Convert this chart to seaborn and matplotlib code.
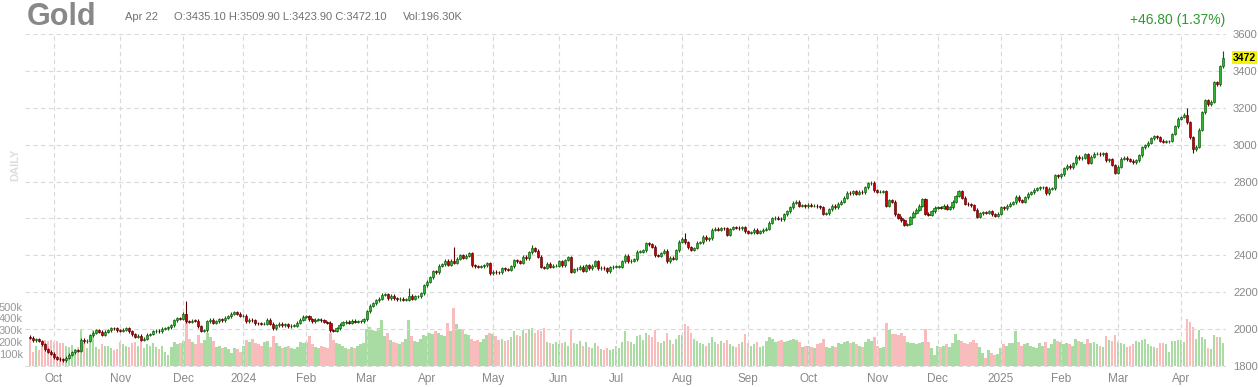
import numpy as np
import pandas as pd
import matplotlib
matplotlib.use("Agg")
import matplotlib.pyplot as plt
import matplotlib.transforms as mtransforms
import seaborn as sns

sns.set_theme(style="white")
plt.rcParams['font.family'] = ['Liberation Sans', 'DejaVu Sans']

# trading days shown (weekdays minus exchange holidays)
start_day, end_day = "2023-09-20", "2025-04-22"
holidays = ["2023-11-23", "2023-12-25", "2024-01-01", "2024-01-15", "2024-02-19",
            "2024-03-29", "2024-05-27", "2024-06-19", "2024-07-04", "2024-09-02",
            "2024-11-28", "2024-12-25", "2025-01-01", "2025-01-09", "2025-01-20",
            "2025-02-17", "2025-04-18"]

# daily closes, one line per month
closes = [
    1953, 1940, 1945, 1936, 1919, 1891, 1878, 1866,  # Sep 23
    1847, 1841, 1836, 1832, 1845, 1862, 1874, 1887, 1883, 1942, 1934, 1937, 1968, 1981, 1994, 1985, 1971, 1985, 1995, 2006, 2005, 1995,  # Oct
    1992, 1998, 2006, 1990, 1973, 1960, 1965, 1943, 1948, 1970, 1974, 1988, 1992, 1989, 2003, 2005, 2010, 2021, 2048, 2060, 2057,  # Nov
    2083, 2042, 2040, 2047, 2046, 2016, 1992, 1995, 2044, 2051, 2036, 2042, 2053, 2048, 2062, 2069, 2083, 2093, 2083, 2072,  # Dec
    2073, 2043, 2050, 2049, 2033, 2031, 2028, 2029, 2051, 2030, 2006, 2022, 2029, 2022, 2027, 2017, 2018, 2018, 2035, 2050, 2067,  # Jan 24
    2071, 2054, 2043, 2051, 2051, 2048, 2039, 2034, 1993, 1992, 2005, 2024, 2038, 2040, 2035, 2046, 2040, 2042, 2043, 2054,  # Feb
    2096, 2126, 2141, 2158, 2166, 2186, 2189, 2167, 2180, 2167, 2161, 2164, 2160, 2160, 2182, 2166, 2178, 2179, 2195, 2238,  # Mar
    2257, 2281, 2315, 2308, 2345, 2351, 2372, 2348, 2372, 2360, 2383, 2401, 2388, 2398, 2413, 2346, 2342, 2338, 2342, 2347, 2357, 2303,  # Apr
    2311, 2309, 2308, 2331, 2324, 2322, 2340, 2375, 2367, 2359, 2393, 2385, 2417, 2438, 2425, 2393, 2337, 2334, 2356, 2338, 2343, 2345,  # May
    2369, 2346, 2375, 2390, 2311, 2326, 2327, 2339, 2317, 2348, 2330, 2345, 2369, 2331, 2332, 2330, 2313, 2336, 2339,  # Jun
    2339, 2339, 2369, 2398, 2368, 2371, 2379, 2421, 2421, 2429, 2467, 2460, 2446, 2400, 2397, 2413, 2425, 2369, 2386, 2382, 2427, 2473,  # Jul
    2490, 2470, 2444, 2430, 2440, 2468, 2472, 2500, 2488, 2492, 2538, 2545, 2540, 2548, 2547, 2513, 2543, 2552, 2550, 2548, 2552, 2530,  # Aug
    2522, 2526, 2540, 2524, 2532, 2540, 2545, 2578, 2600, 2604, 2598, 2596, 2622, 2640, 2660, 2685, 2690, 2668, 2672, 2665,  # Sep
    2675, 2668, 2670, 2665, 2662, 2625, 2628, 2650, 2670, 2662, 2680, 2690, 2712, 2740, 2738, 2748, 2734, 2745, 2743, 2770, 2790, 2795, 2752,  # Oct
    2744, 2746, 2749, 2668, 2700, 2690, 2622, 2605, 2590, 2566, 2570, 2608, 2630, 2648, 2670, 2705, 2625, 2620, 2638, 2657,  # Nov
    2660, 2658, 2668, 2652, 2660, 2690, 2722, 2748, 2712, 2680, 2676, 2672, 2648, 2610, 2628, 2635, 2630, 2640, 2622, 2615, 2625,  # Dec
    2660, 2655, 2668, 2680, 2688, 2718, 2700, 2690, 2714, 2735, 2742, 2756, 2765, 2768, 2770, 2738, 2760, 2765, 2834, 2828,  # Jan 25
    2840, 2872, 2885, 2878, 2900, 2935, 2926, 2930, 2948, 2902, 2935, 2950, 2952, 2948, 2955, 2915, 2920, 2890, 2848,  # Feb
    2880, 2925, 2928, 2920, 2912, 2905, 2915, 2942, 2985, 2998, 3010, 3036, 3045, 3040, 3022, 3015, 3018, 3020, 3058, 3100, 3140,  # Mar
    3150, 3162, 3122, 3040, 2975, 2990, 3082, 3175, 3240, 3220, 3232, 3338, 3328, 3425, 3472.1,  # Apr
]
first_open = 1960

# notable wick extremes (day index -> price)
spike_highs = {52: 2152, 126: 2225, 141: 2448, 167: 2454, 218: 2522, 385: 3201, 397: 3509.9}
spike_lows = {387: 2957, 388: 2968}

# daily volume in thousands
volumes_k = [
    230, 120, 170, 130, 200, 215, 210, 215,
    205, 210, 190, 195, 170, 160, 175, 140, 155, 300, 190, 150, 230, 300, 160, 140, 180, 170, 165, 150, 130, 140,
    200, 180, 170, 160, 190, 200, 170, 210, 150, 180, 170, 190, 160, 140, 170, 120, 90, 160, 200, 180, 190,
    210, 440, 230, 200, 180, 260, 190, 220, 280, 240, 210, 160, 170, 150, 160, 140, 110, 150, 140, 120,
    170, 220, 200, 230, 190, 180, 170, 200, 210, 160, 250, 190, 170, 150, 160, 170, 150, 140, 160, 200, 190,
    200, 250, 180, 160, 150, 170, 160, 150, 280, 220, 190, 180, 170, 150, 140, 160, 150, 170, 180, 190,
    310, 330, 300, 290, 320, 390, 250, 280, 220, 200, 190, 180, 200, 230, 390, 250, 210, 200, 230, 260,
    250, 280, 270, 290, 280, 260, 250, 360, 290, 490, 350, 310, 300, 270, 260, 230, 210, 220, 200, 230, 260, 280,
    270, 250, 220, 230, 210, 220, 240, 290, 260, 250, 300, 280, 310, 320, 280, 300, 290, 320, 200, 190, 180, 200,
    180, 190, 200, 170, 310, 190, 180, 210, 170, 200, 160, 150, 190, 170, 140, 130, 150, 130, 140,
    170, 150, 200, 290, 210, 200, 180, 250, 260, 220, 280, 260, 240, 300, 200, 190, 210, 280, 220, 180, 230, 260,
    260, 350, 340, 280, 230, 210, 190, 180, 170, 190, 240, 200, 180, 210, 190, 220, 180, 170, 160, 180, 200, 270,
    190, 170, 180, 200, 160, 170, 210, 240, 230, 200, 210, 220, 200, 210, 220, 230, 220, 200, 160, 170,
    170, 160, 150, 180, 190, 230, 160, 150, 170, 160, 190, 180, 200, 210, 190, 200, 180, 170, 160, 200, 230, 210, 240,
    170, 150, 160, 360, 300, 270, 270, 260, 280, 250, 200, 190, 190, 180, 190, 200, 310, 200, 150, 90,
    170, 160, 170, 180, 160, 190, 270, 220, 210, 190, 180, 200, 220, 190, 160, 110, 70, 130, 110, 90, 100,
    150, 180, 170, 190, 190, 290, 200, 170, 180, 190, 170, 160, 150, 190, 170, 200, 150, 180, 230, 210,
    200, 180, 190, 180, 170, 230, 210, 200, 180, 230, 190, 200, 180, 170, 160, 250, 220, 210, 260,
    200, 190, 180, 160, 170, 180, 210, 200, 220, 230, 180, 170, 160, 150, 190, 190, 180, 120, 210, 210, 220,
    220, 200, 395, 370, 330, 230, 300, 240, 230, 150, 140, 260, 240, 240, 196,
]

month_labels = ["Oct", "Nov", "Dec", "2024", "Feb", "Mar", "Apr", "May", "Jun", "Jul", "Aug",
                "Sep", "Oct", "Nov", "Dec", "2025", "Feb", "Mar", "Apr"]
price_ticks = [1800, 2000, 2200, 2400, 2600, 2800, 3000, 3200, 3400, 3600]
volume_ticks = [100000, 200000, 300000, 400000, 500000]
volume_tick_labels = ["100k", "200k", "300k", "400k", "500k"]

title = "Gold"
last_date = "Apr 22"
ohlc_text = "O:3435.10 H:3509.90 L:3423.90 C:3472.10"
vol_text = "Vol:196.30K"
change_text = "+46.80 (1.37%)"
last_price = 3472.1

# ---- build frame ----
dates = pd.bdate_range(start_day, end_day)
dates = dates[~dates.isin(pd.to_datetime(holidays))]
assert len(dates) == len(closes) == len(volumes_k), (len(dates), len(closes), len(volumes_k))

df = pd.DataFrame({"date": dates, "close": closes, "volume": np.array(volumes_k) * 1000})
df["i"] = np.arange(len(df))
df["open"] = df["close"].shift(1).fillna(first_open)
df["dir"] = np.where(df["close"] >= df["open"], "up", "down")
wick = 8
df["high"] = df[["open", "close"]].max(axis=1) + wick
df["low"] = df[["open", "close"]].min(axis=1) - wick
for k, v in spike_highs.items():
    df.loc[k, "high"] = v
for k, v in spike_lows.items():
    df.loc[k, "low"] = v

UP_FILL, UP_EDGE = "#2fb52f", "#0d5a0d"
DN_FILL, DN_EDGE = "#c40000", "#5a0000"
VOL_UP, VOL_DN = "#a9dca3", "#f8bcbc"
GRID = "#d9d9d9"
TXT = "#888888"

W, H = 1258, 387
fig = plt.figure(figsize=(W / 100, H / 100), dpi=100)
rect = [25 / W, (H - 367) / H, (1226 - 25) / W, (367 - 34) / H]
ax_vol = fig.add_axes(rect)
ax = fig.add_axes(rect, sharex=ax_vol)
ax.patch.set_visible(False)

# volume bars
sns.barplot(data=df, x="i", y="volume", hue="dir", palette={"up": VOL_UP, "down": VOL_DN},
            native_scale=True, dodge=False, width=0.85, errorbar=None, legend=False,
            saturation=1, linewidth=0, ax=ax_vol)
ax_vol.set_ylim(-10000, 2800000)
ax_vol.set_yticks(volume_ticks)
ax_vol.set_yticklabels(volume_tick_labels)
ax_vol.set_xlabel("")
ax_vol.set_ylabel("")
ax_vol.tick_params(axis="y", length=0, pad=1.5, labelsize=8, labelcolor="#999999")
ax_vol.tick_params(axis="x", length=0, labelbottom=False)
for s in ax_vol.spines.values():
    s.set_visible(False)

# candles
up = df["dir"] == "up"
ax.vlines(df["i"], df["low"], df["high"],
          colors=np.where(up, UP_EDGE, DN_EDGE), linewidth=0.8, zorder=2)
body_bottom = df[["open", "close"]].min(axis=1)
body_h = (df["close"] - df["open"]).abs().clip(lower=2)
ax.bar(df["i"], body_h, bottom=body_bottom, width=0.7,
       color=np.where(up, UP_FILL, DN_FILL), edgecolor=np.where(up, UP_EDGE, DN_EDGE),
       linewidth=0.45, zorder=3)

ax.set_ylim(1795, 3600)
ax.set_xlim(-1.66, 398.0)
ax.yaxis.tick_right()
ax.set_yticks(price_ticks)
ax.set_yticklabels([str(t) for t in price_ticks])
month_starts = df.groupby(df["date"].dt.to_period("M"))["i"].min().values[1:]
ax.set_xticks(month_starts)
ax.set_xticklabels(month_labels)
ax.tick_params(axis="y", length=0, pad=5, labelsize=8, labelcolor=TXT)
ax.tick_params(axis="x", length=0, pad=4, labelsize=8.5, labelcolor=TXT)
ax.grid(True, linestyle=(0, (4, 3)), color=GRID, linewidth=0.8, zorder=0)
ax.set_axisbelow(True)
for s in ax.spines.values():
    s.set_visible(False)

# last price tag
trans = mtransforms.blended_transform_factory(ax.transAxes, ax.transData)
ax.text(1 + 7 / 1201, last_price, f"{last_price:.0f}", transform=trans, ha="left", va="center",
        fontsize=7.5, fontweight="bold", color="black",
        bbox=dict(facecolor="#f5f500", edgecolor="none", pad=1.0))

# header texts
fig.text(27 / W, 1 - 17 / H, title, fontsize=22, fontweight="bold", color="#888888", va="center")
fig.text(125 / W, 1 - 17 / H, last_date, fontsize=8, color="#707070", va="center")
fig.text(174 / W, 1 - 17 / H, ohlc_text, fontsize=8, color="#707070", va="center")
fig.text(403 / W, 1 - 17 / H, vol_text, fontsize=8, color="#707070", va="center")
fig.text(1225 / W, 1 - 20 / H, change_text, fontsize=10, color="#2e9a2e", va="center", ha="right")
fig.text(15 / W, 1 - 165 / H, "DAILY", fontsize=8, fontweight="bold", color="#dddddd",
         rotation=90, va="center", ha="center")

fig.savefig("out.png", dpi=100)
